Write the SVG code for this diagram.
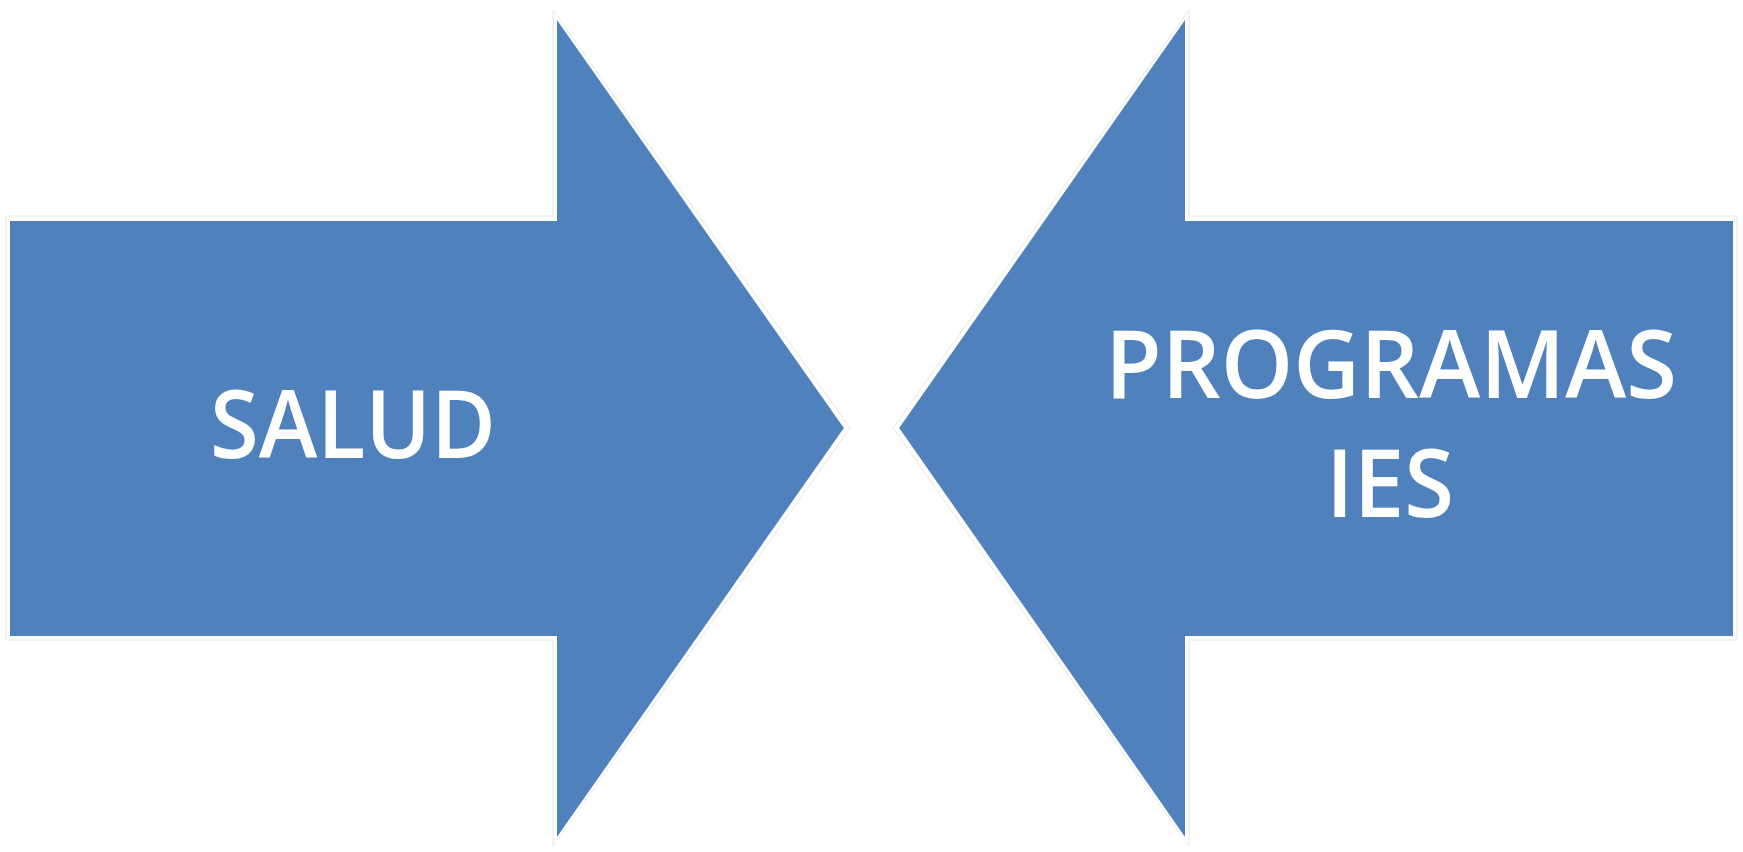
<svg xmlns="http://www.w3.org/2000/svg" width="1743" height="852" viewBox="0 0 1743 852">
<style>
.arrow{fill:#4F81BD;stroke:#ffffff;stroke-width:2}
.halo{fill:none;stroke:#e6e6e6;stroke-width:1}
.lbl{font-family:"Open Sans","Noto Sans",sans-serif;font-size:94px;font-weight:600;fill:#ffffff;text-anchor:middle}
</style>
<rect width="1743" height="852" fill="#ffffff"/>
<g id="salud">
<polygon class="halo" points="6,216 553,216 553,10 850,428 553,846 553,640 6,640"/>
<polygon class="arrow" points="9,220 556,220 556,17 845,428 556,840 556,637 9,637"/>
<text class="lbl" x="353" y="458" textLength="286" lengthAdjust="spacingAndGlyphs">SALUD</text>
</g>
<g id="programas-ies">
<polygon class="halo" points="1737,216 1189,216 1189,10 893,428 1189,846 1189,640 1737,640"/>
<polygon class="arrow" points="1734,220 1186,220 1186,17 898,428 1186,840 1186,637 1734,637"/>
<text class="lbl" x="1391" y="398" textLength="572" lengthAdjust="spacingAndGlyphs">PROGRAMAS</text>
<text class="lbl" x="1390" y="517" textLength="128" lengthAdjust="spacingAndGlyphs">IES</text>
</g>
<g id="connectors"></g>
</svg>
